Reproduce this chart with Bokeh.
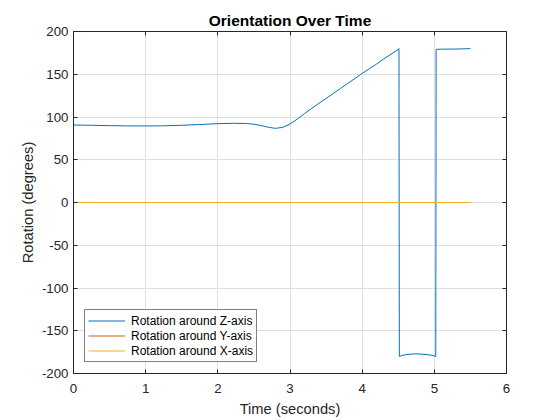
from bokeh.plotting import figure
from bokeh.models import LinearAxis, Range1d, FixedTicker, Legend, LegendItem
from bokeh.embed import file_html
from bokeh.resources import INLINE

# ---- data ----
time_z = [0.0, 0.25, 0.5, 0.75, 1.0, 1.25, 1.5, 1.75, 2.0, 2.2, 2.4, 2.5, 2.6,
          2.7, 2.8, 2.9, 3.0, 3.1, 3.2, 3.3, 3.4, 3.5, 3.6, 3.7, 3.8, 3.9, 4.0,
          4.1, 4.2, 4.3, 4.4, 4.5, 4.51, 4.515, 4.55, 4.6, 4.7, 4.76, 4.85,
          4.95, 5.02, 5.025, 5.1, 5.2, 5.3, 5.4, 5.5]
rot_z = [90.6, 90.3, 89.9, 89.6, 89.5, 89.7, 90.3, 91.2, 92.2, 92.6, 92.4, 91.5,
         90.0, 88.0, 86.7, 87.9, 91.8, 97.5, 104.0, 110.0, 116.0, 121.7, 127.6,
         133.4, 139.3, 145.0, 151.0, 156.5, 162.0, 168.0, 173.5, 179.0, 180.0,
         -180.0, -179.0, -178.0, -177.2, -177.0, -177.5, -178.5, -180.0,
         179.2, 179.3, 179.4, 179.5, 179.7, 180.0]
time_xy = [0.0, 5.5]
rot_y = [0.0, 0.0]
rot_x = [0.0, 0.0]

x_ticks = [0, 1, 2, 3, 4, 5, 6]
y_ticks = [-200, -150, -100, -50, 0, 50, 100, 150, 200]
series_names = ["Rotation around Z-axis", "Rotation around Y-axis", "Rotation around X-axis"]
series_colors = ["#0072BD", "#D95319", "#EDB120"]

FONT = "Liberation Sans"
AX = "#262626"

p = figure(width=560, height=420, output_backend="svg", toolbar_location=None,
           x_range=Range1d(0, 6), y_range=Range1d(-200, 200),
           min_border_left=73, min_border_right=54, min_border_top=31,
           min_border_bottom=47)
p.background_fill_color = "white"
p.border_fill_color = "white"
p.outline_line_color = AX
p.outline_line_width = 1

p.title.text = "Orientation Over Time"
p.title.align = "center"
p.title.offset = 8
p.title.text_font = FONT
p.title.text_font_size = "15.5px"
p.title.text_font_style = "bold"
p.title.text_color = "black"
p.title.standoff = 5

for ax in [p.xaxis[0], p.yaxis[0]]:
    ax.axis_line_color = AX
    ax.major_tick_line_color = AX
    ax.major_tick_in = 4
    ax.major_tick_out = 0
    ax.minor_tick_line_color = None
    ax.major_label_text_font = FONT
    ax.major_label_text_font_size = "13.3px"
    ax.major_label_text_color = AX
    ax.axis_label_text_font = FONT
    ax.axis_label_text_font_size = "14.7px"
    ax.axis_label_text_font_style = "normal"
    ax.axis_label_text_color = AX

p.xaxis[0].ticker = FixedTicker(ticks=x_ticks)
p.yaxis[0].ticker = FixedTicker(ticks=y_ticks)
p.yaxis[0].major_label_overrides = {v: str(v) for v in y_ticks}
p.xaxis[0].axis_label = "Time (seconds)"
p.yaxis[0].axis_label = "Rotation (degrees)"
p.xaxis[0].major_label_standoff = 10
p.xaxis[0].axis_label_standoff = 5
p.yaxis[0].major_label_standoff = 5
p.yaxis[0].axis_label_standoff = 3

for loc, tk in [("above", x_ticks), ("right", y_ticks)]:
    a = LinearAxis(ticker=FixedTicker(ticks=tk))
    a.axis_line_color = None
    a.major_tick_line_color = AX
    a.major_tick_in = 4
    a.major_tick_out = 0
    a.minor_tick_line_color = None
    a.major_label_text_color = None
    a.major_label_text_font_size = "1px"
    a.major_label_standoff = 0
    p.add_layout(a, loc)

p.xgrid.ticker = FixedTicker(ticks=x_ticks)
p.ygrid.ticker = FixedTicker(ticks=y_ticks)
p.grid.grid_line_color = "#DFDFDF"
p.grid.grid_line_width = 1

r_z = p.line(time_z, rot_z, line_color=series_colors[0], line_width=1)
r_y = p.line(time_xy, rot_y, line_color=series_colors[1], line_width=1)
r_x = p.line(time_xy, rot_x, line_color=series_colors[2], line_width=1)

legend = Legend(items=[LegendItem(label=series_names[0], renderers=[r_z]),
                       LegendItem(label=series_names[1], renderers=[r_y]),
                       LegendItem(label=series_names[2], renderers=[r_x])],
                location="bottom_left")
legend.margin = 11
legend.padding = 3
legend.spacing = 0
legend.glyph_width = 37
legend.glyph_height = 15
legend.label_height = 15
legend.label_standoff = 6
legend.label_text_font = FONT
legend.label_text_font_size = "12px"
legend.label_text_color = "black"
legend.border_line_color = "black"
legend.border_line_width = 1
legend.background_fill_color = "white"
legend.background_fill_alpha = 1
p.add_layout(legend, "center")

open("out.html", "w").write(file_html(p, INLINE))
